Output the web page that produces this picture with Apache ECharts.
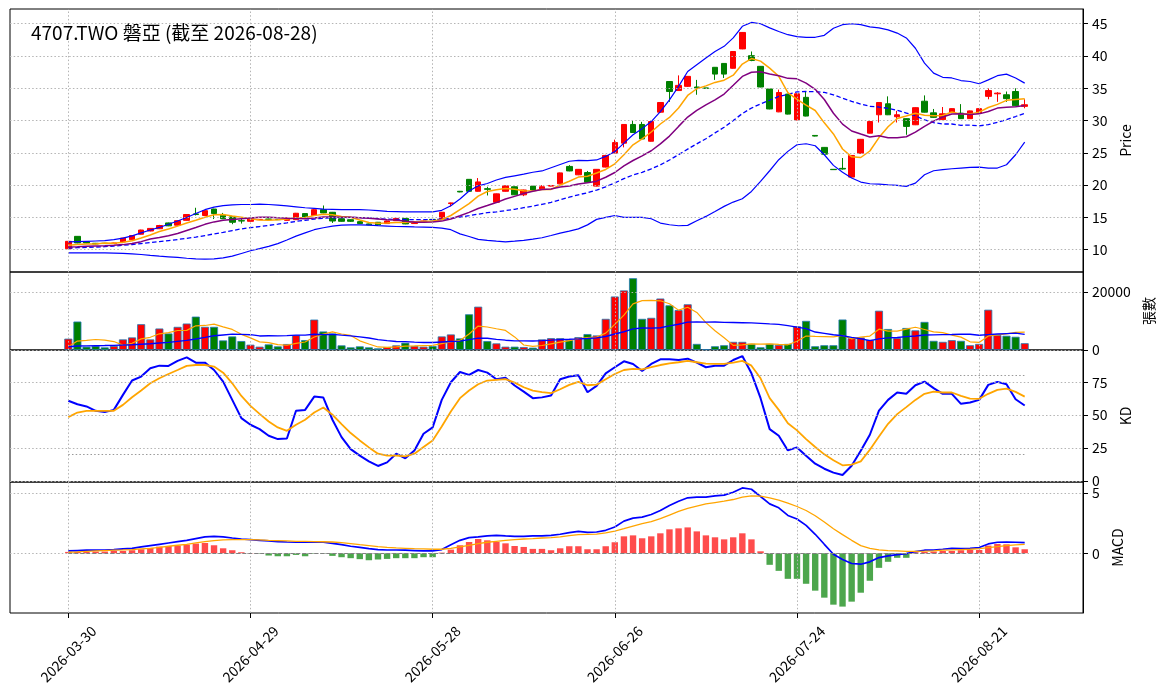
<!DOCTYPE html>
<html>
<head>
<meta charset="utf-8">
<script src="https://cdn.jsdelivr.net/npm/echarts@6/dist/echarts.min.js"></script>
<style>
  html, body { margin: 0; padding: 0; background: #fff; }
  #main { width: 1164px; height: 698px; }
</style>
</head>
<body>
<div id="main"></div>
<script>
// trading days shown on the chart
const dates = ['2026-03-30','2026-03-31','2026-04-01','2026-04-02','2026-04-07','2026-04-08','2026-04-09','2026-04-10','2026-04-13','2026-04-14',
  '2026-04-15','2026-04-16','2026-04-17','2026-04-20','2026-04-21','2026-04-22','2026-04-23','2026-04-24','2026-04-27','2026-04-28',
  '2026-04-29','2026-04-30','2026-05-04','2026-05-05','2026-05-06','2026-05-07','2026-05-08','2026-05-11','2026-05-12','2026-05-13',
  '2026-05-14','2026-05-15','2026-05-18','2026-05-19','2026-05-20','2026-05-21','2026-05-22','2026-05-25','2026-05-26','2026-05-27',
  '2026-05-28','2026-05-29','2026-06-01','2026-06-02','2026-06-03','2026-06-04','2026-06-05','2026-06-08','2026-06-09','2026-06-10',
  '2026-06-11','2026-06-12','2026-06-15','2026-06-16','2026-06-17','2026-06-18','2026-06-22','2026-06-23','2026-06-24','2026-06-25',
  '2026-06-26','2026-06-29','2026-06-30','2026-07-01','2026-07-02','2026-07-03','2026-07-06','2026-07-07','2026-07-08','2026-07-09',
  '2026-07-10','2026-07-13','2026-07-14','2026-07-15','2026-07-16','2026-07-17','2026-07-20','2026-07-21','2026-07-22','2026-07-23',
  '2026-07-24','2026-07-27','2026-07-28','2026-07-29','2026-07-30','2026-07-31','2026-08-03','2026-08-04','2026-08-05','2026-08-06',
  '2026-08-07','2026-08-10','2026-08-11','2026-08-12','2026-08-13','2026-08-14','2026-08-17','2026-08-18','2026-08-19','2026-08-20',
  '2026-08-21','2026-08-24','2026-08-25','2026-08-26','2026-08-27','2026-08-28'];

const open = [10.15,12.07,11.25,11.0,11.0,10.95,11.2,11.55,12.4,12.9,
  13.25,14.15,13.8,14.55,15.55,15.3,16.3,15.35,15.1,14.5,
  14.4,14.65,14.75,14.7,14.55,14.65,15.6,15.3,16.2,15.8,
  14.8,14.65,14.35,14.0,14.25,14.05,14.5,14.85,14.05,14.35,
  14.7,14.75,17.15,19.05,20.9,19.05,19.45,17.35,19.05,19.75,
  18.5,19.85,19.4,19.85,20.2,22.9,21.6,21.95,19.85,22.8,
  24.95,26.5,29.4,29.4,26.8,31.3,36.05,34.65,35.3,35.2,
  35.05,38.25,38.85,38.1,41.1,40.05,38.4,34.9,31.35,34.1,
  30.1,33.6,27.7,25.85,22.45,22.6,21.25,24.95,28.05,30.9,
  32.6,30.6,30.3,29.35,33.0,31.2,30.15,31.3,31.15,30.3,
  31.15,33.75,34.15,34.0,34.5,32.2];
const close = [11.3,11.05,11.05,10.9,10.95,11.05,11.8,12.2,13.05,13.3,
  13.75,13.7,14.5,15.45,15.45,16.05,15.6,14.8,14.25,14.45,
  14.8,14.7,14.7,14.65,14.9,15.65,15.0,16.2,15.7,14.45,
  14.4,14.4,14.05,13.85,13.85,14.45,14.85,14.0,14.35,14.45,
  14.65,15.8,17.25,18.95,19.05,20.5,19.35,18.65,19.9,18.5,
  19.25,19.25,19.75,19.95,21.9,22.2,22.45,20.45,22.45,24.6,
  26.6,29.4,28.15,27.15,29.85,32.8,34.5,35.45,36.85,35.05,
  35.0,37.2,37.2,40.7,43.65,39.3,35.2,31.8,34.35,31.0,
  34.15,30.7,27.6,24.8,22.4,22.5,24.6,27.1,29.85,32.8,
  30.9,30.9,29.1,32.0,31.3,30.5,31.05,31.85,30.3,31.5,
  31.85,34.65,34.25,33.4,32.3,32.45];
const low = [10.1,11.0,11.0,10.85,10.9,10.9,11.15,11.5,12.35,12.85,
  13.2,13.65,13.75,14.5,15.3,15.25,14.75,14.75,13.95,14.05,
  14.35,14.6,14.65,14.6,14.5,14.6,14.95,15.25,15.65,14.15,
  14.35,14.3,14.0,13.8,13.8,14.0,14.45,13.95,14.0,14.3,
  14.55,14.7,16.7,18.9,19.0,19.0,18.4,17.3,19.0,18.45,
  18.3,19.2,19.35,19.8,20.15,22.15,21.55,20.4,19.8,22.75,
  24.9,25.85,28.1,27.1,26.75,31.2,32.9,34.6,35.2,34.0,
  34.95,36.3,36.6,38.05,41.05,39.2,35.15,31.75,31.3,30.95,
  30.05,30.65,27.55,24.75,22.35,22.4,21.2,24.9,28.0,29.7,
  30.85,29.7,27.8,29.3,31.25,30.45,30.1,31.25,30.25,30.25,
  31.1,33.3,32.9,32.9,32.25,31.9];
const high = [11.35,12.1,11.3,11.05,11.05,11.1,11.85,12.25,13.1,13.35,
  13.85,14.2,14.55,15.5,16.5,16.1,16.35,15.7,15.15,14.8,
  14.85,14.75,14.8,14.75,14.95,15.7,15.65,16.3,16.85,15.85,
  14.85,14.7,14.4,14.05,14.3,14.5,14.9,14.9,14.4,14.5,
  14.75,15.85,17.3,19.1,20.95,21.1,19.75,18.7,19.95,19.8,
  19.3,19.9,20.0,20.0,21.95,23.1,22.5,22.2,22.5,24.7,
  27.05,29.45,30.0,29.8,29.9,32.85,36.1,37.0,36.9,36.3,
  35.05,38.3,38.9,40.75,43.7,40.7,38.45,34.95,34.8,34.15,
  34.2,34.5,27.7,25.9,22.45,24.2,24.65,27.15,29.9,32.85,
  33.75,31.5,30.35,32.05,33.9,31.8,32.1,31.9,32.55,31.55,
  31.9,35.0,34.4,34.5,35.0,33.3];

const ma5 = [10.7,10.8,10.9,10.9,11.05,11.0,11.15,11.38,11.81,12.28,
  12.82,13.2,13.66,14.14,14.57,15.03,15.41,15.47,15.23,15.03,
  14.78,14.6,14.58,14.66,14.75,14.92,14.98,15.28,15.49,15.4,
  15.15,15.03,14.6,14.23,14.11,14.12,14.21,14.2,14.3,14.42,
  14.46,14.65,15.3,16.22,17.14,18.31,19.02,19.3,19.49,19.38,
  19.13,19.11,19.33,19.34,20.02,20.61,21.25,21.39,21.89,22.43,
  23.31,24.7,26.24,27.18,28.23,29.47,30.49,31.95,33.89,34.93,
  35.37,35.91,36.26,37.03,38.75,39.61,39.21,38.13,36.86,34.33,
  33.3,32.4,31.56,29.65,27.93,25.6,24.38,24.28,25.29,27.37,
  29.05,30.31,30.71,31.14,30.84,30.76,30.79,31.34,31.0,31.04,
  31.31,32.03,32.51,33.13,33.27,33.39];
const ma10 = [10.42,10.47,10.53,10.58,10.63,10.7,10.79,10.95,11.25,11.67,
  11.91,12.18,12.52,12.98,13.43,13.93,14.31,14.57,14.69,14.8,
  14.91,15.01,15.03,14.95,14.89,14.85,14.79,14.93,15.08,15.08,
  15.04,15.01,14.94,14.86,14.76,14.64,14.62,14.4,14.27,14.27,
  14.29,14.43,14.75,15.26,15.78,16.39,16.84,17.3,17.86,18.26,
  18.72,19.07,19.32,19.42,19.7,19.87,20.18,20.36,20.62,21.23,
  21.96,22.98,23.82,24.54,25.33,26.39,27.6,29.1,30.54,31.58,
  32.42,33.2,34.11,35.46,36.84,37.49,37.56,37.2,36.95,36.54,
  36.46,35.81,34.85,33.26,31.13,29.45,28.39,27.92,27.47,27.65,
  27.33,27.35,27.5,28.22,29.11,29.91,30.55,31.03,31.07,30.94,
  31.04,31.41,31.93,32.07,32.16,32.35];
const bbMid = [10.26,10.32,10.37,10.42,10.47,10.57,10.68,10.8,10.95,11.1,
  11.26,11.42,11.58,11.77,11.95,12.2,12.45,12.7,12.97,13.23,
  13.41,13.59,13.77,13.96,14.16,14.39,14.55,14.75,14.88,14.94,
  14.97,15.0,14.98,14.9,14.82,14.74,14.7,14.67,14.67,14.67,
  14.66,14.72,14.85,15.06,15.27,15.51,15.73,15.85,16.06,16.26,
  16.51,16.75,17.03,17.34,17.74,18.13,18.51,18.83,19.24,19.74,
  20.34,21.02,21.57,21.98,22.52,23.13,23.89,24.73,25.58,26.4,
  27.19,28.09,28.96,30.0,31.09,31.94,32.58,33.15,33.74,34.06,
  34.44,34.5,34.48,34.36,33.99,33.47,32.98,32.56,32.21,32.1,
  31.89,31.58,31.17,30.74,30.12,29.68,29.47,29.47,29.27,29.3,
  29.18,29.38,29.71,30.14,30.63,31.13];
const bbUpper = [11.2,11.25,11.3,11.35,11.4,11.55,11.8,12.15,12.6,13.05,
  13.45,13.95,14.45,15.0,15.6,16.2,16.6,16.84,16.95,17.0,
  17.0,17.05,17.0,16.9,16.8,16.65,16.5,16.4,16.3,16.25,
  16.2,16.2,16.2,16.15,16.05,15.95,15.9,15.85,15.85,15.85,
  15.85,16.1,16.8,17.85,19.1,19.9,20.25,20.8,21.2,21.45,
  21.7,22.0,22.2,22.7,23.2,23.7,23.85,23.8,23.9,24.45,
  25.2,26.5,27.8,28.75,29.85,31.4,33.2,35.3,37.6,38.65,
  39.7,40.7,41.5,42.8,44.6,45.2,45.0,44.35,43.8,43.3,
  43.0,42.9,42.9,43.2,44.3,44.85,45.0,44.85,44.5,44.35,
  44.05,43.55,42.8,41.2,38.9,37.35,36.7,36.6,36.2,36.05,
  35.7,36.3,36.95,37.2,36.6,35.8];
const bbLower = [9.5,9.5,9.5,9.5,9.5,9.47,9.42,9.35,9.26,9.12,
  9.0,8.9,8.8,8.68,8.58,8.53,8.58,8.74,9.0,9.42,
  9.84,10.16,10.53,10.95,11.5,12.1,12.6,13.1,13.4,13.65,
  13.8,13.85,13.85,13.8,13.72,13.66,13.6,13.57,13.53,13.5,
  13.45,13.35,13.1,12.46,12.05,11.6,11.44,11.33,11.23,11.33,
  11.44,11.64,11.85,12.2,12.56,12.87,13.23,13.85,14.7,15.0,
  15.3,15.0,15.0,15.0,14.8,14.13,13.87,13.71,13.77,14.49,
  15.16,15.93,16.71,17.38,17.9,19.03,20.58,22.23,23.94,25.23,
  26.26,26.41,26.1,24.71,23.06,22.0,21.1,20.48,20.22,20.17,
  20.06,19.96,19.81,20.32,21.61,22.23,22.39,22.54,22.65,22.75,
  22.8,22.65,22.65,23.16,24.71,26.67];

const volume = [3900,9770,1140,1360,900,1360,3640,4320,8860,3640,
  7380,5680,7950,9090,11470,7950,7950,3290,4660,3070,
  1820,1140,1930,1250,2050,5110,3410,10450,6360,5680,
  1590,910,1250,910,570,1020,1590,2500,1360,1140,
  1360,4660,5340,3980,12270,14880,3070,2270,1140,1140,
  1020,800,3640,4070,4070,3370,4420,5470,5000,10700,
  18380,20470,24660,10700,11050,17680,15350,13720,15700,2090,
  200,1280,1630,2790,2790,2090,930,2090,1740,2090,
  8140,10000,1280,1630,1630,10470,4070,4300,3490,13490,
  7210,4070,7560,6750,9650,3140,2790,3370,3140,1630,
  2090,13840,5120,4890,4540,2330];
const volMa5 = [1140,3070,3300,3600,3414,2906,1680,2316,3816,4364,
  5568,5976,6702,6748,8314,8428,8882,7950,7064,5384,
  4158,2796,2524,1842,1638,2296,2750,4454,5476,6202,
  5498,4998,3158,2068,1046,932,1068,1318,1408,1522,
  1590,2204,2772,3296,5522,8226,7908,7294,6726,4500,
  1728,1274,1548,2134,2720,3190,3914,4280,4466,5792,
  8794,12004,15842,16982,17052,16912,15888,13700,14700,12908,
  9412,6598,4180,1598,1738,2116,2046,2138,1928,1788,
  2998,4812,4650,4628,4536,5002,3816,4420,4792,7164,
  6512,6512,7164,7816,7048,6234,5978,5140,4428,2824,
  2614,4828,5178,5526,6086,6134];
const volMa20 = [1140,1360,1420,1480,1530,1590,1700,1820,1990,2160,
  2390,2610,2950,3290,3800,4320,4890,5170,5450,5369,
  5265,4834,4873,4868,4925,5113,5101,5408,5283,5385,
  5095,4857,4522,4113,3568,3221,2903,2864,2699,2602,
  2579,2755,2926,3062,3573,4062,4045,3636,3375,3148,
  3119,3114,3233,3391,3566,3684,3825,3974,4156,4634,
  5485,6275,7241,7577,7516,7656,8270,8843,9571,9618,
  9577,9601,9501,9437,9373,9309,9134,8965,8802,8372,
  7860,7336,6167,5714,5243,4882,4318,3847,3237,3807,
  4157,4297,4593,4791,5134,5187,5280,5344,5416,5393,
  5091,5284,5476,5641,5781,5374];

const kLine = [60.9,58.3,56.6,53.3,52.3,54.0,65.4,76.3,79.3,85.6,
  87.6,87.4,91.2,93.9,89.9,89.9,84.3,75.5,61.6,47.7,
  42.7,39.4,34.3,31.8,32.3,53.3,54.0,64.1,63.4,46.5,
  33.3,24.2,19.2,14.9,11.4,14.1,20.7,17.2,23.2,35.9,
  40.7,61.6,75.0,82.8,80.6,84.3,82.3,77.3,78.5,72.5,
  67.9,62.9,63.5,64.9,77.3,79.3,80.3,67.4,72.2,81.8,
  86.4,90.9,88.9,83.6,88.9,92.4,92.4,91.9,92.9,89.9,
  86.4,87.6,87.6,91.9,94.9,81.8,62.9,39.4,34.3,23.2,
  25.5,19.2,13.1,9.3,6.3,4.5,11.6,23.0,35.1,53.5,
  61.6,67.2,66.2,72.7,75.5,70.5,66.2,66.2,58.6,59.6,
  61.6,73.0,75.3,73.5,62.1,57.3];
const dLine = [48.5,52.0,53.3,53.3,53.3,53.3,57.8,63.6,68.7,74.2,
  78.0,81.3,84.3,87.4,88.1,88.1,86.9,82.3,74.2,64.6,
  57.1,51.0,45.2,40.7,38.1,42.7,46.5,52.0,55.8,50.3,
  43.2,36.4,30.8,25.5,20.7,19.2,19.2,18.7,20.7,25.8,
  30.8,41.4,52.8,62.9,68.7,73.5,76.3,76.8,77.3,74.7,
  71.2,68.7,67.5,66.7,69.7,73.0,75.3,72.7,73.2,77.3,
  81.3,84.3,85.1,84.8,86.4,88.1,89.4,90.2,91.2,90.2,
  89.1,88.9,88.9,89.9,91.2,87.6,78.0,62.9,54.0,43.9,
  38.4,31.8,25.8,20.2,15.7,11.9,12.4,14.9,23.7,33.8,
  43.4,50.8,56.1,61.6,66.2,67.9,67.2,67.2,64.6,62.6,
  62.4,66.2,69.2,70.2,67.7,64.1];

const dif = [0.19,0.22,0.25,0.25,0.27,0.3,0.36,0.41,0.52,0.63,
  0.74,0.85,0.96,1.07,1.21,1.35,1.4,1.35,1.26,1.18,
  1.13,1.07,1.02,0.96,0.93,0.91,0.91,0.91,0.91,0.82,
  0.71,0.58,0.49,0.38,0.3,0.27,0.27,0.25,0.22,0.19,
  0.19,0.3,0.71,1.07,1.29,1.35,1.43,1.48,1.43,1.4,
  1.4,1.43,1.43,1.48,1.57,1.7,1.81,1.73,1.76,1.9,
  2.17,2.66,2.91,2.99,3.21,3.54,3.96,4.31,4.59,4.64,
  4.64,4.75,4.81,5.05,5.41,5.3,4.7,4.09,3.76,3.13,
  2.83,2.31,1.57,0.74,-0.08,-0.52,-0.85,-0.91,-0.71,-0.36,
  -0.22,-0.11,-0.03,0.14,0.25,0.27,0.33,0.41,0.38,0.41,
  0.47,0.77,0.91,0.93,0.91,0.88];
const dea = [0.08,0.11,0.16,0.19,0.22,0.25,0.27,0.3,0.36,0.41,
  0.49,0.58,0.66,0.74,0.85,0.96,1.04,1.1,1.13,1.13,
  1.13,1.1,1.07,1.05,1.02,0.99,0.98,0.96,0.95,0.93,
  0.88,0.8,0.71,0.63,0.55,0.49,0.44,0.41,0.38,0.36,
  0.33,0.33,0.41,0.52,0.66,0.8,0.91,0.99,1.07,1.13,
  1.18,1.21,1.26,1.29,1.35,1.46,1.54,1.57,1.59,1.68,
  1.84,2.03,2.25,2.45,2.61,2.86,3.16,3.46,3.71,3.9,
  4.09,4.2,4.31,4.45,4.64,4.75,4.73,4.59,4.4,4.15,
  3.87,3.54,3.1,2.58,2.03,1.54,1.07,0.63,0.41,0.27,
  0.22,0.19,0.16,0.16,0.17,0.2,0.25,0.27,0.3,0.33,
  0.38,0.47,0.55,0.63,0.69,0.74];
const osc = [0.11,0.11,0.11,0.14,0.14,0.19,0.19,0.25,0.33,0.44,
  0.55,0.6,0.63,0.71,0.8,0.85,0.66,0.41,0.25,0.08,
  0.02,-0.05,-0.19,-0.25,-0.25,-0.14,-0.25,-0.05,-0.05,-0.22,
  -0.33,-0.41,-0.49,-0.58,-0.52,-0.47,-0.41,-0.41,-0.41,-0.33,
  -0.33,0.05,0.3,0.66,0.93,1.18,1.07,0.93,0.82,0.6,
  0.52,0.36,0.36,0.25,0.41,0.58,0.58,0.33,0.33,0.58,
  0.91,1.4,1.48,1.24,1.4,1.65,1.98,2.06,2.14,1.81,
  1.48,1.32,1.15,1.32,1.65,1.15,0.16,-0.96,-1.46,-2.12,
  -2.12,-2.53,-3.1,-3.68,-4.26,-4.42,-4.01,-3.27,-2.28,-1.21,
  -0.71,-0.38,-0.38,0.08,0.11,0.14,0.19,0.19,0.25,0.27,
  0.27,0.63,0.77,0.74,0.49,0.33];

// tick labels
const xTicks = [0, 20, 40, 60, 80, 100];
const priceTicks = [10, 15, 20, 25, 30, 35, 40, 45];
const volTicks = [0, 20000];
const kdTicks = [0, 25, 50, 75];
const macdTicks = [0, 5];
const kdRefs = [80, 20];

const FONT = '"Noto Sans CJK TC", "Noto Sans", sans-serif';
const UP = '#ff0000';
const DOWN = '#008000';
const GRID_LINE = { color: '#b4b4b4', type: [1.5, 2.2], width: 1 };

const pts = arr => arr.map((v, i) => [i, v]);
const lastIdx = close.length - 1;

function xAxisFor(g, bottom) {
  return {
    type: 'value', gridIndex: g, min: -6.4, max: 111.4,
    axisLine: { show: false, onZero: false },
    splitLine: { show: false },
    axisTick: bottom ? { show: true, length: 5, customValues: xTicks, lineStyle: { color: '#000' } } : { show: false },
    axisLabel: bottom ? {
      show: true, customValues: xTicks, rotate: 45, margin: 41,
      align: 'center', verticalAlign: 'middle',
      fontSize: 14, color: '#000', fontFamily: FONT,
      formatter: v => dates[Math.round(v)]
    } : { show: false }
  };
}

function yAxisFor(g, min, max, ticks, name, gap) {
  return {
    type: 'value', gridIndex: g, position: 'right', min: min, max: max,
    axisLine: { show: true, onZero: false, lineStyle: { color: '#000' } },
    axisTick: { show: true, length: 5, customValues: ticks, lineStyle: { color: '#000' } },
    axisLabel: { customValues: ticks, margin: 9, fontSize: 14, color: '#000', fontFamily: FONT,
      formatter: v => String(v) },
    splitLine: { show: false },
    name: name, nameLocation: 'middle', nameRotate: 90, nameGap: gap,
    nameTextStyle: { fontSize: 14, color: '#000', fontFamily: FONT }
  };
}

// dotted grid lines drawn underneath everything
function gridSeries(g, yTicks) {
  return {
    type: 'line', xAxisIndex: g, yAxisIndex: g, data: [], silent: true, z: 0,
    markLine: {
      silent: true, symbol: ['none', 'none'], label: { show: false },
      lineStyle: GRID_LINE, emphasis: { disabled: true },
      data: xTicks.map(v => ({ xAxis: v })).concat(yTicks.map(v => ({ yAxis: v })))
    }
  };
}

function lineSeries(g, arr, color, width, dash) {
  return {
    type: 'line', xAxisIndex: g, yAxisIndex: g, data: pts(arr),
    symbol: 'none', silent: true, z: 4,
    lineStyle: { color: color, width: width, type: dash || 'solid' }
  };
}

const option = {
  animation: false,
  backgroundColor: '#fff',
  title: {
    text: '4707.TWO 磐亞 (截至 2026-08-28)',
    left: 26, top: 18,
    textStyle: { fontSize: 19, fontWeight: 'normal', color: '#000', fontFamily: FONT }
  },
  grid: [
    { left: 10, right: 81, top: 9, height: 263, show: true, borderColor: '#000', borderWidth: 1 },
    { left: 10, right: 81, top: 272, height: 78, show: true, borderColor: '#000', borderWidth: 1 },
    { left: 10, right: 81, top: 350, height: 132, show: true, borderColor: '#000', borderWidth: 1 },
    { left: 10, right: 81, top: 482, height: 131, show: true, borderColor: '#000', borderWidth: 1 }
  ],
  xAxis: [xAxisFor(0, false), xAxisFor(1, false), xAxisFor(2, false), xAxisFor(3, true)],
  yAxis: [
    yAxisFor(0, 6.55, 47.28, priceTicks, 'Price', 26),
    yAxisFor(1, 0, 26800, volTicks, '張數', 51),
    yAxisFor(2, -0.8, 99.5, kdTicks, 'KD', 26),
    yAxisFor(3, -4.95, 5.9, macdTicks, 'MACD', 19)
  ],
  series: [
    gridSeries(0, priceTicks),
    gridSeries(1, volTicks),
    gridSeries(2, kdTicks),
    gridSeries(3, macdTicks),

    // price panel
    lineSeries(0, bbUpper, '#0000ff', 1.2),
    lineSeries(0, bbLower, '#0000ff', 1.2),
    lineSeries(0, bbMid, '#0000ff', 1.3, [4.5, 2.5]),
    lineSeries(0, ma5, '#ffa500', 1.5),
    lineSeries(0, ma10, '#800080', 1.5),
    {
      type: 'candlestick', xAxisIndex: 0, yAxisIndex: 0, z: 3,
      data: open.map((o, i) => [i, o, close[i], low[i], high[i]]),
      barWidth: 6,
      itemStyle: { color: UP, color0: DOWN, borderColor: UP, borderColor0: DOWN, borderWidth: 1 }
    },

    // volume panel
    {
      type: 'bar', xAxisIndex: 1, yAxisIndex: 1, z: 2, silent: true,
      data: pts(volume), barWidth: 8,
      itemStyle: {
        color: p => (close[p.dataIndex] > open[p.dataIndex] ? UP : DOWN),
        borderColor: '#1f77b4', borderWidth: 0.8
      }
    },
    lineSeries(1, volMa5, '#ffa500', 1.2),
    lineSeries(1, volMa20, '#0000ff', 1.4),

    // KD panel
    {
      type: 'line', xAxisIndex: 2, yAxisIndex: 2, data: pts(kLine),
      symbol: 'none', silent: true, z: 4,
      lineStyle: { color: '#0000ff', width: 2 },
      markLine: {
        silent: true, symbol: ['none', 'none'], label: { show: false },
        lineStyle: { color: '#999999', type: [1.5, 2.2], width: 1 },
        data: kdRefs.map(v => [{ coord: [0, v] }, { coord: [lastIdx, v] }])
      }
    },
    lineSeries(2, dLine, '#ffa500', 1.8),

    // MACD panel
    {
      type: 'bar', xAxisIndex: 3, yAxisIndex: 3, z: 2, silent: true,
      data: pts(osc), barWidth: 6.4,
      itemStyle: { color: p => (p.value[1] >= 0 ? 'rgba(255,0,0,0.7)' : 'rgba(0,128,0,0.7)') },
      markLine: {
        silent: true, symbol: ['none', 'none'], label: { show: false },
        lineStyle: { color: '#808080', type: [4, 2], width: 1 },
        data: [[{ coord: [0, 0] }, { coord: [lastIdx, 0] }]]
      }
    },
    lineSeries(3, dif, '#0000ff', 1.7),
    lineSeries(3, dea, '#ffa500', 1.3)
  ]
};

const chart = echarts.init(document.getElementById('main'), null, { renderer: 'canvas' });
chart.setOption(option);
</script>
</body>
</html>
